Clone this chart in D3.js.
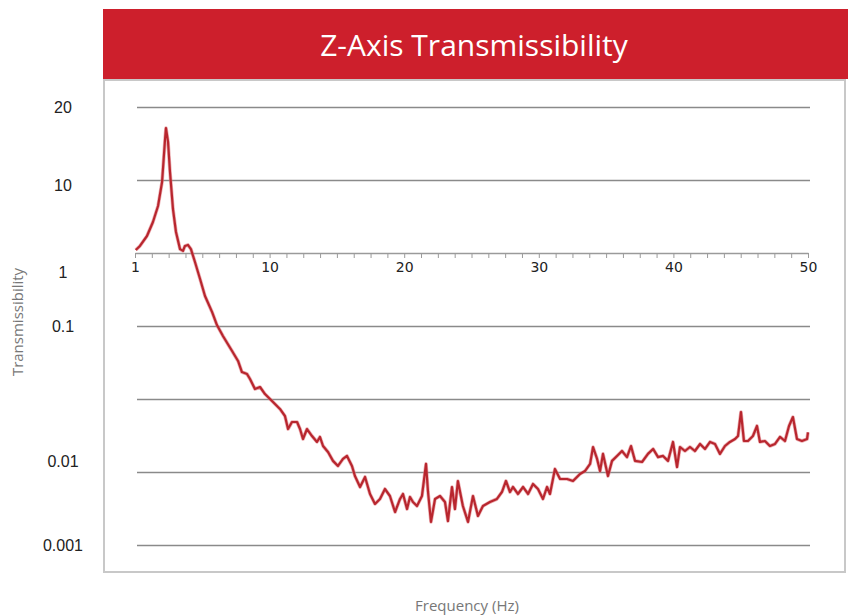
<!DOCTYPE html>
<html>
<head>
<meta charset="utf-8">
<script src="https://cdn.jsdelivr.net/npm/d3@7"></script>
<style>
    body { margin: 0; background: #fff; }
</style>
</head>
<body>
<div id="chart"></div>
<script>
// frequency (Hz) and transmissibility readings
const freq = [1.05, 1.33, 1.8, 2.2, 2.54, 2.81, 3.01, 3.07, 3.21, 3.34,
    3.54, 3.74, 4.01, 4.21, 4.34, 4.54, 4.74, 5.01, 5.35, 5.68,
    6.15, 6.48, 6.88, 7.49, 7.89, 8.15, 8.49, 8.69, 9.02, 9.36,
    9.69, 10.03, 10.4, 10.77, 11.14, 11.37, 11.66, 12.04, 12.26, 12.48,
    12.78, 13.15, 13.52, 13.74, 13.97, 14.34, 14.71, 15.08, 15.45, 15.75,
    16.12, 16.34, 16.72, 17.09, 17.46, 17.83, 18.2, 18.57, 18.94, 19.32,
    19.69, 19.91, 20.21, 20.43, 20.65, 20.95, 21.32, 21.62, 21.77, 21.99,
    22.29, 22.66, 23.03, 23.25, 23.55, 23.77, 23.99, 24.36, 24.74, 25.11,
    25.48, 25.85, 26.37, 26.89, 27.26, 27.56, 27.86, 28.08, 28.45, 28.83,
    29.2, 29.57, 29.94, 30.31, 30.61, 30.83, 31.2, 31.58, 32.1, 32.54,
    33.06, 33.43, 33.81, 34.03, 34.33, 34.55, 34.77, 35.14, 35.44, 35.81,
    36.18, 36.55, 36.85, 37.15, 37.67, 38.11, 38.49, 38.86, 39.23, 39.6,
    39.97, 40.27, 40.49, 40.86, 41.23, 41.6, 41.98, 42.35, 42.72, 43.09,
    43.46, 43.83, 44.2, 44.58, 44.8, 45.02, 45.24, 45.54, 45.91, 46.21,
    46.43, 46.8, 47.17, 47.55, 47.92, 48.29, 48.59, 48.88, 49.18, 49.55,
    49.93, 50]

const trans = [1.1, 1.25, 1.71, 2.66, 4.4, 9.4, 36.5, 51.5, 33.2, 12.9,
    4.0, 1.94, 1.13, 1.07, 1.25, 1.29, 1.13, 0.753, 0.441, 0.258,
    0.156, 0.103, 0.073, 0.0455, 0.0332, 0.0234, 0.022, 0.0188, 0.0137, 0.0146,
    0.0117, 0.01, 0.00855, 0.0073, 0.00585, 0.00388, 0.00484, 0.00484, 0.00388, 0.00283,
    0.00388, 0.00311, 0.00258, 0.00302, 0.00227, 0.00188, 0.00142, 0.00121, 0.00151, 0.00166,
    0.00121, 0.000881, 0.000623, 0.000855, 0.0005, 0.000365, 0.000427, 0.000585, 0.000469, 0.000283,
    0.000427, 0.0005, 0.000311, 0.000455, 0.000388, 0.000342, 0.000469, 0.00129, 0.000532, 0.000207,
    0.000427, 0.000469, 0.000388, 0.000213, 0.000623, 0.000311, 0.000753, 0.000342, 0.000207, 0.000469,
    0.00025, 0.000342, 0.000388, 0.000427, 0.000532, 0.000753, 0.000532, 0.000623, 0.0005, 0.000623,
    0.0005, 0.000685, 0.000585, 0.000427, 0.000623, 0.0005, 0.0011, 0.000802, 0.000802, 0.000753,
    0.00094, 0.00103, 0.00129, 0.0022, 0.00151, 0.00103, 0.00177, 0.000881, 0.00142, 0.00166,
    0.00194, 0.0016, 0.00227, 0.00142, 0.00137, 0.00177, 0.00207, 0.0016, 0.00166, 0.00142,
    0.00258, 0.00117, 0.0022, 0.00194, 0.0022, 0.00194, 0.00242, 0.00207, 0.00258, 0.00242,
    0.00177, 0.00227, 0.00258, 0.00283, 0.00311, 0.00664, 0.00266, 0.00266, 0.00311, 0.00427,
    0.00258, 0.00266, 0.00227, 0.00242, 0.00302, 0.00266, 0.00427, 0.00566, 0.00283, 0.00266,
    0.00283, 0.0035]

const xTicks = [1, 10, 20, 30, 40, 50]
const gridValues = [100, 10, 0.1, 0.01, 0.001, 0.0001]
const yTickLabels = ["20", "10", "1", "0.1", "0.01", "0.001"]
const yTickAt = [100, 8.5, 0.55, 0.1, 0.0014, 0.0001]

var width = 848,
    height = 616,
    plot = { left: 135, right: 808, top: 107, bottom: 545 };

var svg = d3.select('#chart')
    .append("svg")
    .attr("width", width)
    .attr("height", height)
    .style("font-family", "'Liberation Sans', Arial, sans-serif");

// title bar
svg.append("rect")
    .attr("x", 103).attr("y", 9)
    .attr("width", width - 103).attr("height", 70)
    .attr("fill", "#cd1f2c");
svg.append("text")
    .attr("x", 474).attr("y", 56)
    .attr("text-anchor", "middle")
    .attr("fill", "#fff")
    .style("font-family", "'Open Sans', sans-serif")
    .style("font-size", "30px")
    .style("font-weight", "500")
    .text("Z-Axis Transmissibility");

// frame
svg.append("rect")
    .attr("x", 104).attr("y", 80)
    .attr("width", 741).attr("height", 492)
    .attr("fill", "none")
    .attr("stroke", "#c8c8c8")
    .attr("stroke-width", 2);

var xScale = d3.scaleLinear()
    .domain(xTicks)
    .range(xTicks.map((d, i) => plot.left + i * (plot.right - plot.left) / (xTicks.length - 1)));

var yScale = d3.scaleLog()
    .domain([0.0001, 100])
    .range([plot.bottom, plot.top]);

// gridlines
svg.append("g")
    .attr("class", "grid")
    .attr("transform", `translate(${plot.right + 2},0)`)
    .call(d3.axisLeft(yScale).tickValues(gridValues).tickSize(plot.right + 2 - 137).tickFormat(""))
    .call(g => g.select(".domain").remove())
    .call(g => g.selectAll("line").attr("stroke", "#8a8a8a").attr("stroke-width", 1.3));

// y labels
svg.append("g")
    .selectAll("text")
    .data(yTickLabels)
    .enter()
    .append("text")
    .attr("x", 63)
    .attr("y", (d, i) => yScale(yTickAt[i]))
    .attr("dy", "0.35em")
    .attr("text-anchor", "middle")
    .attr("fill", "#222")
    .style("font-size", "16px")
    .text(d => d);

// x axis with minor ticks (8 per labelled step)
var minorTicks = []
xTicks.slice(1).forEach((d, i) => {
    d3.range(8).forEach(k => minorTicks.push(xTicks[i] + k * (d - xTicks[i]) / 8))
})
minorTicks.push(xTicks[xTicks.length - 1])

var xAxisG = svg.append("g")
    .attr("class", "x-axis")
    .attr("transform", `translate(0,${yScale(1)})`);
xAxisG.call(d3.axisBottom(xScale).tickValues(minorTicks).tickSize(5).tickSizeOuter(0).tickFormat(""))
    .call(g => g.select(".domain").attr("stroke", "#9a9a9a").attr("stroke-width", 1.5))
    .call(g => g.selectAll("line").attr("stroke", "#9a9a9a"));
xAxisG.append("g")
    .call(d3.axisBottom(xScale).tickValues(xTicks).tickSize(0).tickPadding(9))
    .call(g => g.select(".domain").remove())
    .call(g => g.selectAll("text").attr("fill", "#222")
        .style("font-size", "14px").style("font-family", "'DejaVu Sans', sans-serif"));

// the curve
var points = freq.map((f, i) => ({ f: f, v: trans[i] }))
var line = d3.line()
    .x(d => xScale(d.f))
    .y(d => yScale(d.v));

svg.append("path")
    .datum(points)
    .attr("d", line)
    .attr("fill", "none")
    .attr("stroke", "#e07a80")
    .attr("stroke-width", 3.6)
    .attr("stroke-linejoin", "round")
    .attr("opacity", 0.6);
svg.append("path")
    .datum(points)
    .attr("d", line)
    .attr("fill", "none")
    .attr("stroke", "#b8262e")
    .attr("stroke-width", 2.2)
    .attr("stroke-linejoin", "round");

// axis titles
svg.append("text")
    .attr("transform", "translate(23,322) rotate(-90)")
    .attr("text-anchor", "middle")
    .attr("fill", "#777")
    .style("font-size", "15px")
    .style("font-family", "'Open Sans', sans-serif")
    .text("Transmissibility");
svg.append("text")
    .attr("x", 467).attr("y", 611)
    .attr("text-anchor", "middle")
    .attr("fill", "#777")
    .style("font-size", "15px")
    .style("font-family", "'Open Sans', sans-serif")
    .text("Frequency (Hz)");
</script>
</body>
</html>
